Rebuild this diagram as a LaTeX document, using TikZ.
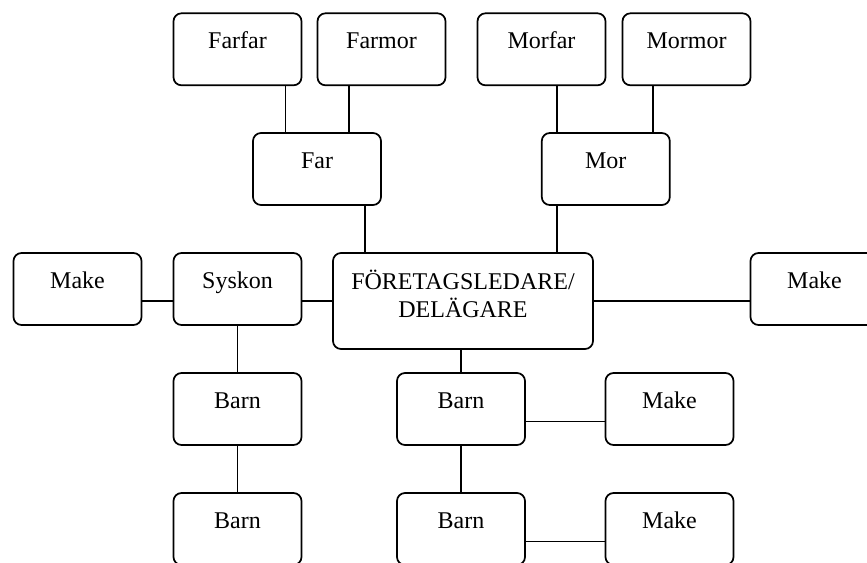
\documentclass[tikz,border=0pt]{standalone}
\usepackage{fontspec}
\setmainfont{Liberation Serif}
\tikzset{
  ruta/.style  = {rectangle, draw, line width=1.3pt, rounded corners=6pt, minimum width=96pt, inner xsep=0pt, inner ysep=0pt, text height=26.25pt, text depth=27.75pt, font=\fontsize{18}{21}\selectfont},
  huvud/.style = {ruta, minimum width=195pt, align=center, text height=48pt, text depth=24pt},
  link/.style  = {line width=1.2pt}
}

\begin{document}
\begin{tikzpicture}[x=0.75pt,y=-0.75pt]
  \useasboundingbox (0,0) rectangle (867,562);
  % far- och morföräldrar
  \node[ruta] (ff) at (237.5,49.3) {Farfar};
  \node[ruta] (fm) at (381.5,49.3) {Farmor};
  \node[ruta] (mf) at (541.5,49.3) {Morfar};
  \node[ruta] (mm) at (686.5,49.3) {Mormor};
  \node[ruta] (far) at (317,169) {Far};
  \node[ruta] (mor) at (605.8,169) {Mor};
  % mittenraden
  \node[ruta] (mk1) at (77.5,289) {Make};
  \node[ruta] (sy) at (237.5,289) {Syskon};
  \node[huvud] (E) at (463,301) {FÖRETAGSLEDARE/\\DELÄGARE};
  \node[ruta] (mk2) at (814.5,289) {Make};
  % barn
  \node[ruta] (b1) at (237.5,409) {Barn};
  \node[ruta] (b2) at (461,409) {Barn};
  \node[ruta] (mk3) at (669.5,409) {Make};
  \node[ruta] (b3) at (237.5,529) {Barn};
  \node[ruta] (b4) at (461,529) {Barn};
  \node[ruta] (mk4) at (669.5,529) {Make};

  \draw[link] ([xshift=-23.5pt]far.north) -- ([xshift=-23.5pt]far.north |- ff.south);
  \draw[link] ([xshift=24pt]far.north) -- ([xshift=24pt]far.north |- fm.south);
  \draw[link] ([xshift=36pt]far.south) -- ([xshift=36pt]far.south |- E.north);
  \draw[link] ([xshift=-36.4pt]mor.north) -- ([xshift=-36.4pt]mor.north |- mf.south);
  \draw[link] ([xshift=35.6pt]mor.north) -- ([xshift=35.6pt]mor.north |- mm.south);
  \draw[link] ([xshift=-36.4pt]mor.south) -- ([xshift=-36.4pt]mor.south |- E.north);
  \draw[link] (mk1.east |- E.west) -- (sy.west |- E.west);
  \draw[link] (sy.east |- E.west) -- (E.west);
  \draw[link] (E.east) -- (mk2.west |- E.east);
  \draw[link] (sy) -- (b1);
  \draw[link] (b1) -- (b3);
  \draw[link] (b2.north) -- (b2.north |- E.south);
  \draw[link] (b2) -- (b4);
  \draw[link] ([yshift=-9.5pt]b2.east) -- ([yshift=-9.5pt]mk3.west);
  \draw[link] ([yshift=-9.5pt]b4.east) -- ([yshift=-9.5pt]mk4.west);
\end{tikzpicture}
\end{document}
